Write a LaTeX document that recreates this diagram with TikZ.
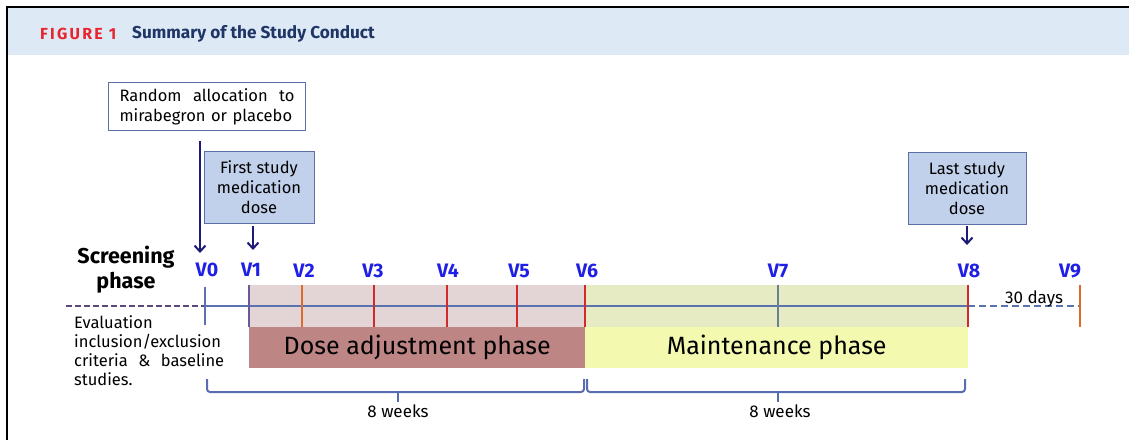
\documentclass[tikz,border=0pt]{standalone}
\usepackage{fontspec}
\setmainfont{Fira Sans}
\newfontfamily\headfont{Fira Sans}
\newfontfamily\figfont[LetterSpace=14]{Fira Sans}
\usetikzlibrary{arrows.meta}
\definecolor{headbg}{HTML}{DDE9F5}
\definecolor{figred}{HTML}{E8242E}
\definecolor{titlenavy}{HTML}{1F3566}
\definecolor{boxedge}{HTML}{5C6FA8}
\definecolor{boxfill}{HTML}{C2D1EB}
\definecolor{arrnavy}{HTML}{1E1A78}
\definecolor{tline}{HTML}{5B72B0}
\definecolor{tdash}{HTML}{5A4A7A}
\definecolor{vblue}{HTML}{1F1FE6}
\definecolor{tkorange}{HTML}{E06A2A}
\definecolor{tkred}{HTML}{D22A2A}
\definecolor{tkpurple}{HTML}{6A5A9A}
\definecolor{tkgray}{HTML}{6A7F8F}
\definecolor{bandpink}{HTML}{E3D4D5}
\definecolor{bandgreen}{HTML}{E6EBC3}
\definecolor{dosefill}{HTML}{BD8584}
\definecolor{maintfill}{HTML}{F3FAB0}
\definecolor{bracecol}{HTML}{5A6CB0}
\tikzset{
  vlabel/.style={font=\fontsize{19.5}{19.5}\selectfont\bfseries, text=vblue, inner sep=0pt},
  tick/.style={line width=2pt},
  dosebox/.style={draw=boxedge, line width=1pt, fill=boxfill, align=center, font=\fontsize{16.5}{20}\selectfont, minimum width=110pt, minimum height=72pt, inner sep=2pt},
  bigarrow/.style={draw=arrnavy, line width=2.2pt, -{Straight Barb[length=6pt,width=11pt,line width=2pt]}},
  phasebox/.style={minimum height=41pt, inner sep=0pt, font=\fontsize{25}{25}\selectfont},
  bracepath/.style={draw=bracecol, line width=2pt, rounded corners=3pt},
  small/.style={font=\fontsize{16.5}{19}\selectfont, inner sep=0pt},
}
\begin{document}
\begin{tikzpicture}[x=1pt,y=-1pt]
\useasboundingbox (0,0) rectangle (1129,440);
% frame and header
\fill[headbg] (8,8) rectangle (1129,55);
\draw[black, line width=2pt] (7,440) -- (7,7) -- (1129,7);
\node[anchor=west, inner sep=0pt, font=\figfont\fontsize{16}{16}\selectfont\bfseries, text=figred] (fig) at (40,34) {FIGURE 1};
\node[anchor=west, inner sep=0pt, font=\headfont\fontsize{17.2}{17.2}\selectfont\bfseries, text=titlenavy] (title) at (132,34) {Summary of the Study Conduct};

% shaded bands
\fill[bandpink] (249,285) rectangle (585,327);
\fill[bandgreen] (585,285) rectangle (968,327);
\node[phasebox, fill=dosefill, minimum width=336pt, anchor=north west] (dose) at (249,327) {Dose adjustment phase};
\node[phasebox, fill=maintfill, minimum width=383pt, anchor=north west] (maint) at (585,327) {Maintenance phase};

% timeline
\coordinate (tl0) at (66,306);
\coordinate (tv0) at (205,306);
\coordinate (tv8) at (968,306);
\coordinate (tv9) at (1080,306);
\draw[tdash, line width=2pt, dash pattern=on 6pt off 3pt] (tl0) -- (tv0);
\draw[tline, line width=2pt] (tv0) -- (tv8);
\draw[tline, line width=2pt, dash pattern=on 7pt off 4pt] (tv8) -- (tv9);

% ticks
\draw[tick, tline] (205,287) -- (205,325);
\draw[tick, tkpurple] (249,285) -- (249,327);
\draw[tick, tkorange] (302,285) -- (302,327);
\draw[tick, tkred] (374,285) -- (374,327);
\draw[tick, tkred] (447,285) -- (447,327);
\draw[tick, tkred] (517,285) -- (517,327);
\draw[tick, tkred] (585,285) -- (585,327);
\draw[tick, tkgray] (778,285) -- (778,327);
\draw[tick, tkred] (968,285) -- (968,327);
\draw[tick, tkorange] (1080,285) -- (1080,327);

% V labels
\node[vlabel] (V0) at (207,270) {V0};
\node[vlabel] (V1) at (251,270) {V1};
\node[vlabel] (V2) at (304,271) {V2};
\node[vlabel] (V3) at (373,271) {V3};
\node[vlabel] (V4) at (448,271) {V4};
\node[vlabel] (V5) at (519,271) {V5};
\node[vlabel] (V6) at (587,271) {V6};
\node[vlabel] (V7) at (778,271) {V7};
\node[vlabel] (V8) at (969,271) {V8};
\node[vlabel] (V9) at (1070,271) {V9};

% 30 days
\node[font=\fontsize{17}{17}\selectfont, inner sep=0pt] (days) at (1034,299) {30 days};

% screening
\node[font=\fontsize{21.5}{25}\selectfont\bfseries, align=center, inner sep=0pt] (screen) at (126,270) {Screening\\phase};
\node[small, anchor=north west, text width=150pt, align=left] (eval) at (74,315) {Evaluation\\inclusion/exclusion\\criteria\hfill \&\hfill baseline\\studies.};

% top boxes
\node[draw=boxedge, line width=1pt, fill=white, anchor=north west, text width=175pt, align=left, inner xsep=11pt, inner ysep=6pt, font=\fontsize{16.5}{20}\selectfont] (rand) at (108,82) {Random\hfill allocation\hfill to\\mirabegron or placebo};
\node[dosebox] (first) at (259,187) {First study\\medication\\dose};
\node[dosebox, minimum width=118pt] (last) at (967,188) {Last study\\medication\\dose};

% arrows
\coordinate (randout) at (200,141);
\coordinate (randend) at (200,253);
\draw[bigarrow] (randout) -- (randend);
\coordinate (firstout) at (253,226);
\coordinate (firstend) at (253,250);
\draw[bigarrow] (firstout) -- (firstend);
\coordinate (lastout) at (967,226);
\coordinate (lastend) at (967,245);
\draw[bigarrow] (lastout) -- (lastend);

% braces
\draw[bracepath] (207,379) -- (207,392) -- (584,392) -- (584,379);
\draw[bracecol, line width=2pt] (398,392) -- (398,402);
\draw[bracepath] (587,379) -- (587,392) -- (965,392) -- (965,379);
\draw[bracecol, line width=2pt] (778,392) -- (778,402);
\node[font=\fontsize{17}{17}\selectfont, inner sep=0pt] (w1) at (398,411) {8 weeks};
\node[font=\fontsize{17}{17}\selectfont, inner sep=0pt] (w2) at (780,411) {8 weeks};
\end{tikzpicture}
\end{document}
